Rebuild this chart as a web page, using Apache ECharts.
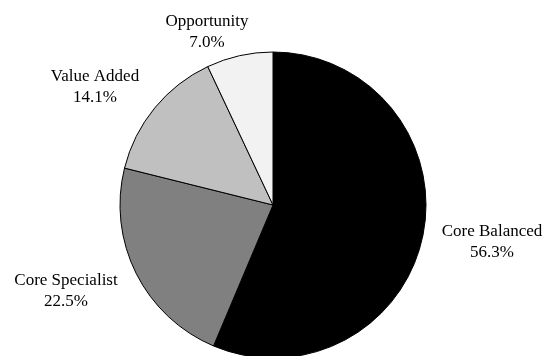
<!DOCTYPE html>
<html>
<head>
<meta charset="utf-8">
<script src="https://cdn.jsdelivr.net/npm/echarts@6/dist/echarts.min.js"></script>
<style>
  html, body { margin: 0; padding: 0; background: #fff; }
  #chart { width: 546px; height: 356px; }
</style>
</head>
<body>
<div id="chart"></div>
<script>
// 数据
const categories = ['Core Balanced', 'Core Specialist', 'Value Added', 'Opportunity']
const shares = [56.3, 22.5, 14.1, 7.0]

// 样式
const sliceColors = ['#000000', '#808080', '#c0c0c0', '#f2f2f2']
// label centres (px), one per slice
const labelAnchors = [[492, 242], [66, 291], [95, 87], [207, 32]]

const chart = echarts.init(document.getElementById('chart'))

chart.setOption({
  animation: false,
  backgroundColor: '#ffffff',
  series: [{
    type: 'pie',
    center: [273, 205],
    radius: [0, 153],
    startAngle: 90,
    clockwise: true,
    avoidLabelOverlap: false,
    itemStyle: {
      borderColor: '#000000',
      borderWidth: 1
    },
    label: {
      show: true,
      position: 'outside',
      formatter: p => p.name + '\n' + p.value.toFixed(1) + '%',
      fontFamily: '"Liberation Serif", "DejaVu Serif", serif',
      fontSize: 17,
      lineHeight: 21,
      color: '#000000',
      align: 'center'
    },
    labelLine: { show: false },
    labelLayout: params => ({
      x: labelAnchors[params.dataIndex][0],
      y: labelAnchors[params.dataIndex][1],
      align: 'center',
      verticalAlign: 'middle'
    }),
    emphasis: { disabled: true },
    data: categories.map((name, i) => ({
      name,
      value: shares[i],
      itemStyle: { color: sliceColors[i] }
    }))
  }]
})
</script>
</body>
</html>
